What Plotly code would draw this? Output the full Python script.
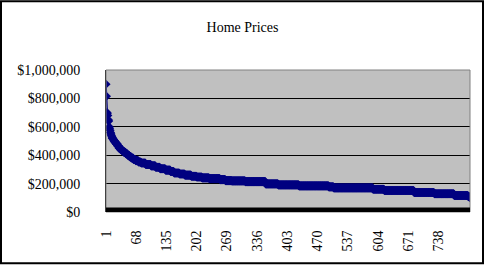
import plotly.graph_objects as go

# Home prices (thousands of $), sorted descending, given as price levels with repeat counts
price_levels_k = [900, 815, 700, 695, 680, 650, 640, 600, 590, 575, 560, 549, 539, 530,
                  520, 510, 500, 490, 478, 465, 450, 440, 430, 420, 410, 400, 390, 380,
                  370, 362, 352, 345, 335, 325, 315, 305, 295, 285, 275, 268, 260, 252,
                  247, 240, 235, 228, 221, 219, 214, 198, 191, 184, 177, 170, 160, 151,
                  137, 128, 116, 110, 106, 100]
level_counts = [1, 1, 1, 1, 1, 1, 1, 1, 1, 1, 1, 1, 1, 1,
                2, 2, 2, 3, 3, 3, 3, 4, 4, 4, 4, 4, 4, 5,
                5, 6, 6, 10, 12, 10, 10, 12, 11, 8, 12, 12, 14, 12,
                12, 16, 24, 12, 14, 30, 45, 28, 46, 66, 11, 87, 25, 66,
                45, 44, 31, 2, 2, 1]

prices = []
for p, c in zip(price_levels_k, level_counts):
    prices.extend([p * 1000] * c)
index = list(range(1, len(prices) + 1))

x_tick_vals = [1, 68, 135, 202, 269, 336, 403, 470, 537, 604, 671, 738]
y_tick_vals = [0, 200000, 400000, 600000, 800000, 1000000]

W, H = 485, 266
ml, mr, mt, mb = 106, 15, 70, 53.5
pw, ph = W - ml - mr, H - mt - mb

fig = go.Figure()
fig.add_trace(go.Scatter(
    x=index, y=prices, mode="lines+markers",
    line=dict(color="#000080", width=1.5),
    marker=dict(symbol="diamond", size=7, color="#000080", line=dict(width=0)),
    hoverinfo="skip", showlegend=False,
))

font = "Liberation Serif, Times New Roman, serif"
fig.update_layout(
    width=W, height=H,
    margin=dict(l=ml, r=mr, t=mt, b=mb, pad=0),
    paper_bgcolor="white", plot_bgcolor="#C0C0C0",
    font=dict(family=font, size=14, color="black"),
    title=dict(text="Home Prices", x=0.5, xanchor="center", y=1 - 27 / H, yanchor="middle",
               font=dict(family=font, size=14, color="black")),
    xaxis=dict(range=[1, len(prices)], tickmode="array", tickvals=x_tick_vals,
               ticktext=[str(v) for v in x_tick_vals], tickangle=-90,
               showgrid=False, zeroline=False, showline=False,
               ticks="outside", ticklen=12, tickcolor="rgba(0,0,0,0)",
               tickfont=dict(family=font, size=14)),
    yaxis=dict(range=[0, 1000000], tickmode="array", tickvals=y_tick_vals,
               tickformat="$,.0f", showgrid=True, gridcolor="black", gridwidth=1,
               zeroline=False, showline=True, linecolor="black", linewidth=1,
               ticks="outside", ticklen=22, tickcolor="rgba(0,0,0,0)",
               tickfont=dict(family=font, size=14)),
)

# plot-area border (gray) and thick black floor band
fig.add_shape(type="rect", xref="paper", yref="paper", x0=0, x1=1, y0=0, y1=1,
              line=dict(color="#808080", width=1), layer="above")
fig.add_shape(type="line", xref="paper", yref="paper", x0=0, x1=1,
              y0=2.3 / ph, y1=2.3 / ph, line=dict(color="black", width=4.5), layer="above")
# outer chart border
fig.add_shape(type="rect", xref="paper", yref="paper",
              x0=(1 - ml) / pw, x1=(483 - ml) / pw,
              y0=(mt + ph - 264) / ph, y1=(mt + ph - 1) / ph,
              line=dict(color="black", width=2))

fig.write_html("out.html")
